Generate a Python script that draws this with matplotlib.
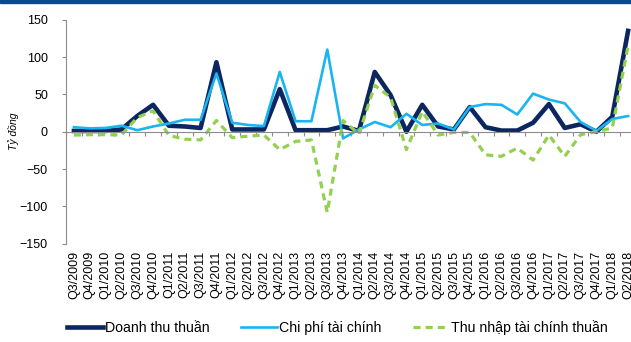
import numpy as np
import matplotlib
matplotlib.use('Agg')
import matplotlib.pyplot as plt

plt.rcParams['font.family'] = ['Liberation Sans', 'DejaVu Sans']

quarters = ['Q3/2009', 'Q4/2009',
            'Q1/2010', 'Q2/2010', 'Q3/2010', 'Q4/2010',
            'Q1/2011', 'Q2/2011', 'Q3/2011', 'Q4/2011',
            'Q1/2012', 'Q2/2012', 'Q3/2012', 'Q4/2012',
            'Q1/2013', 'Q2/2013', 'Q3/2013', 'Q4/2013',
            'Q1/2014', 'Q2/2014', 'Q3/2014', 'Q4/2014',
            'Q1/2015', 'Q2/2015', 'Q3/2015', 'Q4/2015',
            'Q1/2016', 'Q2/2016', 'Q3/2016', 'Q4/2016',
            'Q1/2017', 'Q2/2017', 'Q3/2017', 'Q4/2017',
            'Q1/2018', 'Q2/2018']

doanh_thu = [1, 1, 1, 3, 21, 36, 8, 7, 5, 93, 3, 3, 3, 57, 2, 2, 2, 7,
             1, 80, 49, 0, 36, 7, 3, 33, 6, 1.5, 1.5, 12, 37, 5, 10, 0,
             20, 135]
chi_phi = [6, 4.5, 5, 8, 2, 7, 11, 16, 16, 78, 12, 9, 7.5, 80, 14, 14,
           110, -9, 3, 13, 6, 24, 9, 11, 3, 33, 37, 36, 23, 51, 43, 38,
           13, 1, 17, 21]
thu_nhap = [-4.5, -4, -4, -4.5, 19, 28, -5, -10, -11, 15, -8, -6, -4.5,
            -24, -13, -11, -108, 15, -3, 62, 46, -24, 27, -4.5, -1, -1,
            -31, -33, -22, -38, -4.5, -33, -4, 0, 5, 115]

x = np.arange(len(quarters))

fig = plt.figure(figsize=(6.31, 3.42), dpi=100)
ax = fig.add_axes([66 / 631, 1 - 243.7 / 342, 570 / 631, 224 / 342])

ax.plot(x, doanh_thu, color='#0c2660', lw=3.3, label='Doanh thu thuần')
ax.plot(x, chi_phi, color='#19b5f0', lw=1.9, label='Chi phí tài chính')
ax.plot(x, thu_nhap, color='#92d050', lw=2.3, ls=(0, (2.2, 1.6)),
        label='Thu nhập tài chính thuần')

ax.set_xlim(-0.5, len(quarters) - 0.5)
ax.set_ylim(-150, 150)
ax.set_yticks(np.arange(-150, 151, 50))

# axis line at zero with small ticks between the quarters
for side in ['top', 'right']:
    ax.spines[side].set_visible(False)
ax.spines['bottom'].set_position(('data', 0))
ax.spines['bottom'].set_color('#8c8c8c')
ax.spines['left'].set_color('#8c8c8c')
ax.set_xticks(np.arange(-0.5, len(quarters), 1))
ax.tick_params(axis='x', length=3, color='#8c8c8c', labelbottom=False)
ax.tick_params(axis='y', length=3, color='#8c8c8c', labelsize=9,
               pad=10)

# quarter labels along the bottom edge
sec = ax.secondary_xaxis('bottom')
sec.set_xticks(x)
sec.set_xticklabels(quarters, rotation=90, fontsize=9)
sec.tick_params(length=0, pad=5)
sec.spines['bottom'].set_visible(False)

ax.set_ylabel('Tỷ đồng', fontstyle='italic', fontsize=7.5)
ax.yaxis.set_label_coords(-0.082, 0.5)

fig.legend(loc='center', bbox_to_anchor=(0.535, 1 - 328 / 342), ncol=3,
           frameon=False, fontsize=10.2, handlelength=2.5,
           handletextpad=0.2, columnspacing=2.2)

# dark band along the top
fig.patches.append(plt.Rectangle((0, 1 - 3 / 342), 1, 3 / 342,
                                 transform=fig.transFigure,
                                 color='#0a4a8c', zorder=5))

fig.savefig('out.png', dpi=100)
